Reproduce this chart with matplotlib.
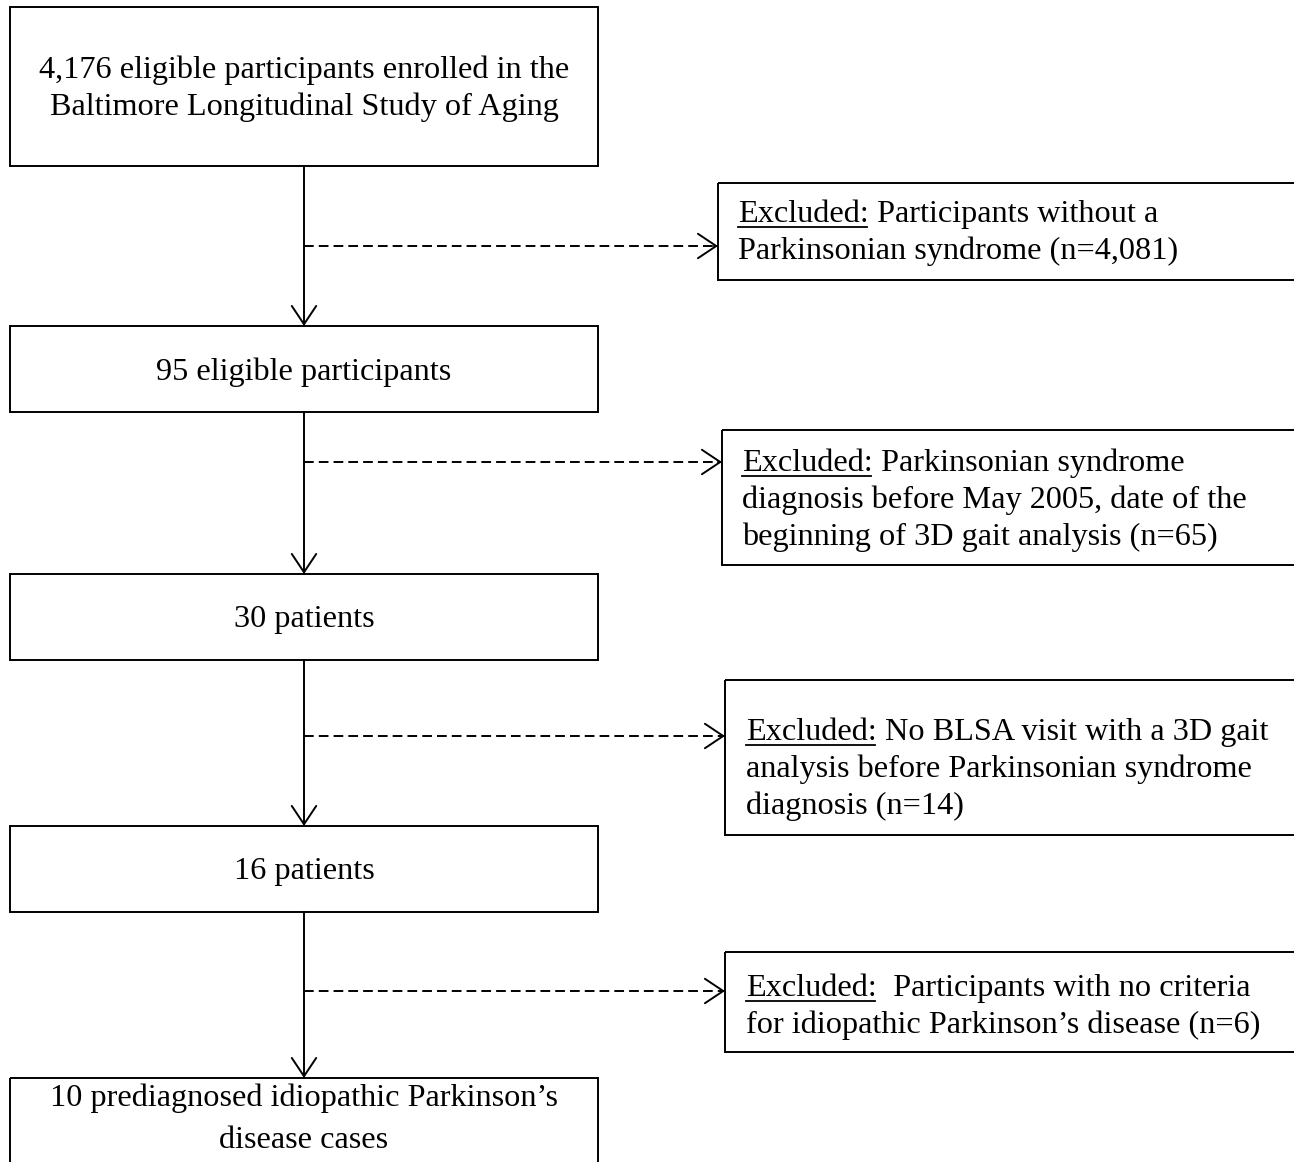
"""Flow chart of participant selection (BLSA, Parkinsonian syndrome)."""

import matplotlib

matplotlib.use("Agg")
import matplotlib.pyplot as plt
from matplotlib.patches import Rectangle

W, H = 1294, 1162

# --- content -------------------------------------------------------------
main_labels = [
    ["4,176 eligible participants enrolled in the",
     "Baltimore Longitudinal Study of Aging"],
    ["95 eligible participants"],
    ["30 patients"],
    ["16 patients"],
    ["10 prediagnosed idiopathic Parkinson\u2019s", "disease cases"],
]
excl_heads = ["Excluded:", "Excluded:", "Excluded:", "Excluded:"]
excl_lines = [
    [" Participants without a", "Parkinsonian syndrome (n=4,081)"],
    [" Parkinsonian syndrome", "diagnosis before May 2005, date of the",
     "beginning of 3D gait analysis (n=65)"],
    [" No BLSA visit with a 3D gait", "analysis before Parkinsonian syndrome",
     "diagnosis (n=14)"],
    ["  Participants with no criteria",
     "for idiopathic Parkinson\u2019s disease (n=6)"],
]

# --- layout (pixels, y down) ---------------------------------------------
main_x0, main_x1 = 10, 598
main_tops = [7, 326, 574, 826, 1078]
main_bots = [166, 412, 660, 912, 1200]
main_text_y = [[70, 107], [372], [620], [872], [1098, 1141]]
stem_x = 304

excl_x0 = [718, 722, 725, 725]
excl_tops = [183, 430, 680, 952]
excl_bots = [280, 565, 835, 1052]
excl_text_x = [738, 742, 746, 746]
excl_baseline = [222, 471, 740, 996]
excl_arrow_y = [246, 462, 736, 991]
line_gap = 37

LW = 1.4
FS = 23.2
FONT = ["Liberation Serif", "DejaVu Serif"]

fig = plt.figure(figsize=(W / 100, H / 100), dpi=100)
ax = fig.add_axes([0, 0, 1, 1])
ax.set_xlim(0, W)
ax.set_ylim(H, 0)
ax.axis("off")

for i, lines in enumerate(main_labels):
    ax.add_patch(Rectangle((main_x0, main_tops[i]), main_x1 - main_x0,
                           main_bots[i] - main_tops[i], fill=False,
                           lw=LW, ec="black"))
    for line, y in zip(lines, main_text_y[i]):
        ax.text((main_x0 + main_x1) / 2, y, line, ha="center", va="center",
                fontsize=FS, family=FONT)

# vertical arrows between main boxes
for i in range(len(main_labels) - 1):
    ax.annotate("", xy=(stem_x, main_tops[i + 1]),
                xytext=(stem_x, main_bots[i]),
                arrowprops=dict(arrowstyle="->,head_length=0.6,head_width=0.4",
                                lw=LW, color="black", shrinkA=0, shrinkB=0,
                                mutation_scale=22))

fig.canvas.draw()
renderer = fig.canvas.get_renderer()
inv = ax.transData.inverted()

for i, (head, rest) in enumerate(zip(excl_heads, excl_lines)):
    ax.add_patch(Rectangle((excl_x0[i], excl_tops[i]), W + 20 - excl_x0[i],
                           excl_bots[i] - excl_tops[i], fill=False,
                           lw=LW, ec="black"))
    # dashed connector with solid open head
    y = excl_arrow_y[i]
    ax.plot([stem_x, excl_x0[i] - 3], [y, y], color="black", lw=LW,
            linestyle=(0, (5, 2.6)))
    ax.annotate("", xy=(excl_x0[i], y), xytext=(excl_x0[i] - 4, y),
                arrowprops=dict(arrowstyle="->,head_length=0.6,head_width=0.4",
                                lw=LW, color="black", shrinkA=0, shrinkB=0,
                                mutation_scale=22))
    # underlined "Excluded:" then the rest of the first line
    x = excl_text_x[i]
    yb = excl_baseline[i]
    t = ax.text(x, yb, head, ha="left", va="baseline", fontsize=FS,
                family=FONT)
    bb = t.get_window_extent(renderer)
    (bx0, _), (bx1, _) = inv.transform([(bb.x0, bb.y0), (bb.x1, bb.y0)])
    ax.plot([bx0, bx1 - 2], [yb + 5, yb + 5], color="black", lw=1.3)
    ax.text(bx1, yb, rest[0], ha="left", va="baseline", fontsize=FS,
            family=FONT)
    for k, line in enumerate(rest[1:], start=1):
        ax.text(x, yb + k * line_gap, line, ha="left", va="baseline",
                fontsize=FS, family=FONT)

fig.savefig("out.png", dpi=100, facecolor="white")
